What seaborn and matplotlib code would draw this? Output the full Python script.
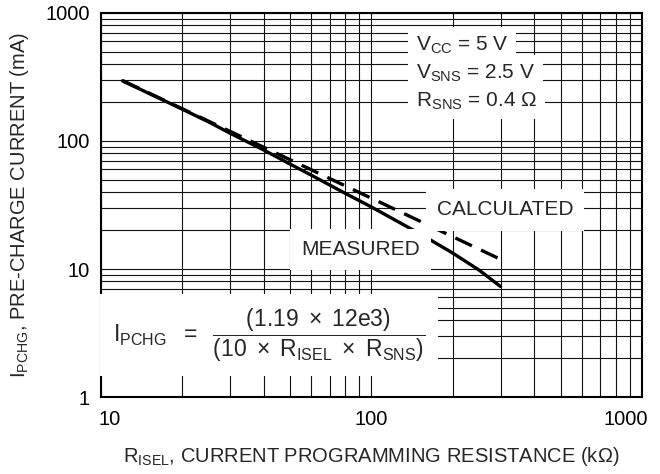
import matplotlib
matplotlib.use("Agg")
import matplotlib.pyplot as plt
import matplotlib.ticker as mticker
import matplotlib.transforms as mtrans
import numpy as np
import pandas as pd
import seaborn as sns

# values (R in kOhm, I in mA)
r_measured = [12, 15, 20, 25, 30, 40, 50, 60, 80, 100, 150, 200, 250, 300]
i_measured = [295, 236, 177, 141, 115, 85, 66, 54, 39, 30.5, 19, 13.3, 9.8, 7.3]
r_calc = [12, 30, 100, 300]
i_calc = [297, 119, 35.7, 11.9]

x_ticks = [10, 100, 1000]
y_ticks = [1, 10, 100, 1000]

meas = pd.DataFrame({"R": r_measured, "I": i_measured})
calc = pd.DataFrame({"R": r_calc, "I": i_calc})

sns.set_style("white")
plt.rcParams["font.family"] = ["Liberation Sans", "DejaVu Sans"]
plt.rcParams["mathtext.fontset"] = "custom"
plt.rcParams["mathtext.rm"] = "Liberation Sans"
plt.rcParams["mathtext.it"] = "Liberation Sans"
plt.rcParams["mathtext.bf"] = "Liberation Sans:bold"
plt.rcParams["mathtext.default"] = "regular"

fig = plt.figure(figsize=(6.6, 4.74), dpi=100)
ax = fig.add_axes([0.153, 0.1624, 0.8197, 0.8102])

sns.lineplot(data=meas, x="R", y="I", ax=ax, color="black", lw=2.4, zorder=3)
sns.lineplot(data=calc, x="R", y="I", ax=ax, color="black", lw=2.4, zorder=3,
             linestyle=(0, (5.5, 3)))

ax.set_xscale("log")
ax.set_yscale("log")
ax.set_xlim(10, 1000)
ax.set_ylim(1, 1000)
ax.xaxis.set_major_locator(mticker.FixedLocator(x_ticks))
ax.yaxis.set_major_locator(mticker.FixedLocator(y_ticks))
ax.xaxis.set_minor_locator(mticker.LogLocator(base=10, subs=np.arange(2, 10)))
ax.yaxis.set_minor_locator(mticker.LogLocator(base=10, subs=np.arange(2, 10)))
ax.xaxis.set_major_formatter(mticker.FormatStrFormatter("%d"))
ax.yaxis.set_major_formatter(mticker.FormatStrFormatter("%d"))
ax.xaxis.set_minor_formatter(mticker.NullFormatter())
ax.yaxis.set_minor_formatter(mticker.NullFormatter())
ax.tick_params(which="both", length=0, labelsize=14.5, colors="black")
ax.tick_params(axis="x", pad=9)
ax.tick_params(axis="y", pad=8)
ax.grid(which="both", color="#111111", lw=0.8)
for s in ax.spines.values():
    s.set_linewidth(1.5)
    s.set_color("black")

# first x label sits right of the corner, last one left of it
xl = ax.get_xticklabels()
xl[0].set_ha("left")
xl[0].set_transform(xl[0].get_transform() + mtrans.ScaledTranslation(-2 / 100, 0, fig.dpi_scale_trans))
xl[-1].set_ha("right")
xl[-1].set_transform(xl[-1].get_transform() + mtrans.ScaledTranslation(6 / 100, 0, fig.dpi_scale_trans))

ax.set_xlabel(r"$R_{ISEL}$, CURRENT PROGRAMMING RESISTANCE (k$\Omega$)", fontsize=14.5, labelpad=12)
ax.set_ylabel(r"$I_{PCHG}$, PRE-CHARGE CURRENT (mA)", fontsize=14.5, labelpad=10)

box = dict(facecolor="white", edgecolor="none", pad=5.5)
ax.text(0.582, 0.917, r"$V_{CC}$ = 5 V", transform=ax.transAxes, fontsize=15,
        va="center", ha="left", bbox=box, zorder=4)
ax.text(0.582, 0.844, r"$V_{SNS}$ = 2.5 V", transform=ax.transAxes, fontsize=15,
        va="center", ha="left", bbox=box, zorder=4)
ax.text(0.582, 0.771, r"$R_{SNS}$ = 0.4 $\Omega$", transform=ax.transAxes, fontsize=15,
        va="center", ha="left", bbox=box, zorder=4)

ax.text(0.747, 0.487, "CALCULATED", transform=ax.transAxes, fontsize=15,
        va="center", ha="center", bbox=dict(facecolor="white", edgecolor="none", pad=8), zorder=4)
ax.text(0.48, 0.383, "MEASURED", transform=ax.transAxes, fontsize=15,
        va="center", ha="center", bbox=dict(facecolor="white", edgecolor="none", pad=8), zorder=4)

ax.text(0.022, 0.161,
        r"$I_{PCHG}\ \ =\ \ \dfrac{(1.19\ \times\ 12e3)}{(10\ \times\ R_{ISEL}\ \times\ R_{SNS})}$",
        transform=ax.transAxes, fontsize=16.5, va="center", ha="left",
        bbox=dict(facecolor="white", edgecolor="none", pad=9), zorder=4)

fig.savefig("out.png", dpi=100)
